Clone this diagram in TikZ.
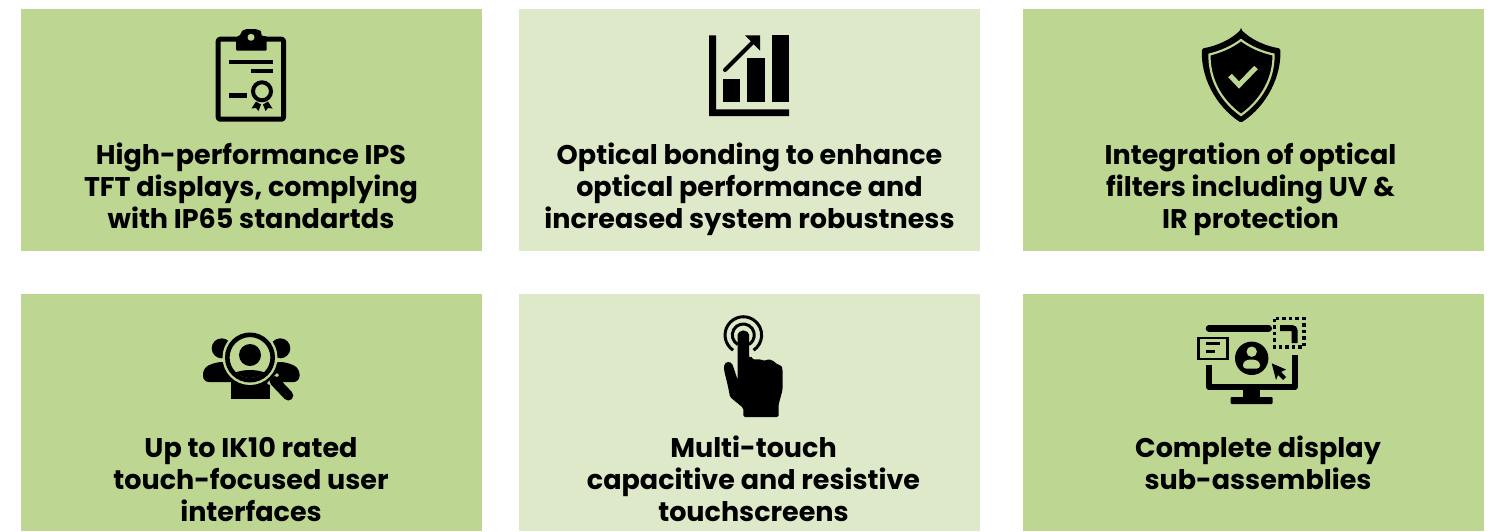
\documentclass[tikz,border=0pt]{standalone}
\usepackage{fontspec}
\setmainfont{Poppins}[BoldFont=Poppins Bold]
\definecolor{cardA}{HTML}{BDD792}
\definecolor{cardB}{HTML}{DEE9C9}
\tikzset{
  x=1pt,y=-1pt,
  cardbox/.style={draw=none,inner sep=0,minimum width=461pt,anchor=north west},
  captext/.style={inner sep=0,anchor=north,align=center,font=\bfseries\fontsize{27}{32}\selectfont,text=black},
  inkline/.style={draw=black,line cap=round,line join=round},
}
\begin{document}
\begin{tikzpicture}
\useasboundingbox (0,0) rectangle (1496,531);
\fill[white] (0,0) rectangle (1496,531);
% cards
\node[cardbox,minimum height=242pt,fill=cardA] (c1) at (21,9) {};
\node[cardbox,minimum height=242pt,fill=cardB] (c2) at (519,9) {};
\node[cardbox,minimum height=242pt,fill=cardA] (c3) at (1023,9) {};
\node[cardbox,minimum height=237pt,fill=cardA] (c4) at (21,294) {};
\node[cardbox,minimum height=237pt,fill=cardB] (c5) at (519,294) {};
\node[cardbox,minimum height=237pt,fill=cardA] (c6) at (1023,294) {};
% captions
\node[captext] (t1) at (251,143) {High-performance IPS\\TFT displays, complying\\with IP65 standartds};
\node[captext] (t2) at (749.5,143) {Optical bonding to enhance\\optical performance and\\increased system robustness};
\node[captext] (t3) at (1250.5,143) {Integration of optical\\filters including UV \&\\IR protection};
\node[captext] (t4) at (251,437) {Up to IK10 rated\\touch-focused user\\interfaces};
\node[captext] (t5) at (753.5,436) {Multi-touch\\capacitive and resistive\\touchscreens};
\node[captext] (t6) at (1258,436) {Complete display\\sub-assemblies};
% clipboard
\draw[inkline,line width=5pt,rounded corners=2pt] (218.2,39.2) rectangle (283.5,119.2);
\fill[black,rounded corners=3pt] (236,50.7) -- (236,36) -- (241,36) -- (241,33) [rounded corners=4pt] -- (243,29) -- (259,29) -- (262,33) [rounded corners=1pt]-- (262,36) -- (266.7,36) -- (266.7,50.7) -- cycle;
\fill[cardA] (251,37.3) circle (3.5);
\fill[black] (229,59.7) rectangle (272.7,63.7);
\fill[black] (251,68.7) rectangle (272.7,72.7);
\fill[black] (229,93.2) rectangle (246.7,97.7);
\draw[black,line width=4pt] (262,91.3) circle (9);
\fill[black] (251.5,108.5) -- (256,101.5) -- (261,104.5) -- (258.5,111) -- (256,108) -- cycle;
\fill[black] (272.5,108.5) -- (268,101.5) -- (263,104.5) -- (265.5,111) -- (268,108) -- cycle;
% chart
\fill[black] (709,35.3) -- (716,35.3) -- (716,109.3) -- (789,109.3) -- (789,116) -- (709,116) -- cycle;
\fill[black] (722.7,79.3) rectangle (740.3,102.3);
\fill[black] (747.3,58.3) rectangle (764.7,102.3);
\fill[black] (771.7,35.3) rectangle (789,102.3);
\draw[inkline,line width=4pt] (725,70) -- (754,41);
\fill[black] (745,35.3) -- (760,35.3) -- (760,50.7) -- cycle;
% shield
\fill[black,rounded corners=1.5pt] (1241,29.3) .. controls (1250,39) and (1265,46) .. (1280.3,48.5)
  .. controls (1281.5,75) and (1268,105) .. (1241,122.7)
  .. controls (1214,105) and (1200.5,75) .. (1202,48.5)
  .. controls (1217,46) and (1232,39) .. cycle;
\draw[cardA,line width=2.2pt] (1241,40) .. controls (1250,47) and (1262,52) .. (1273.5,54.5)
  .. controls (1274,78) and (1262,100) .. (1241,115)
  .. controls (1220,100) and (1209,78) .. (1209.5,54.5)
  .. controls (1220,52) and (1232,47) .. cycle;
\draw[cardA,line width=5pt,line join=miter] (1230,75.5) -- (1239,85) -- (1256,67.5);
% people
\fill[black] (221.7,348.3) circle (10);
\fill[black] (280.3,348.3) circle (10);
\fill[black,rounded corners=6pt] (203,382) -- (203,368) -- (216,362) -- (228,362) -- (240,382) -- cycle;
\fill[black,rounded corners=6pt] (299.5,382) -- (299.5,368) -- (286,362) -- (274,362) -- (262,382) -- cycle;
\fill[black] (230.7,367) rectangle (270,399);
\fill[cardA] (250,357.5) circle (27.5);
\draw[black,line width=4.6pt] (250,357.5) circle (22.7);
\begin{scope}
\clip (250,357.5) circle (20.5);
\fill[black] (250,391) ellipse (31 and 21);
\end{scope}
\fill[black] (250,355) circle (11);
\draw[cardA,line width=14pt] (272,378) -- (274,380);
\draw[inkline,line width=10pt] (274.5,381) -- (288.3,395.5);
% hand
\draw[black,line width=3pt] (733.1,350.2) arc[start angle=124,end angle=416,radius=18.3];
\draw[black,line width=3pt] (737.8,344.5) arc[start angle=120,end angle=420,radius=11];
\fill[black,rounded corners=1.5pt]
 (737.7,336) arc[start angle=180,end angle=360,radius=5.65]
 -- (749,358) .. controls (751,357) and (752,356) .. (753,360)
 .. controls (756,359) and (760,359) .. (765,361)
 .. controls (768,359) and (772,359) .. (778,365)
 .. controls (782,365) and (782.5,368) .. (782.5,372)
 -- (782.5,390) -- (778.5,405) -- (778.5,417) -- (743.3,417) -- (743.3,408)
 -- (730,397) .. controls (727,380) and (724,372) .. (724,367)
 .. controls (725,361) and (731,361) .. (733,366) -- (737.7,380) -- cycle;
% monitor
\draw[black,line width=6pt,line join=round] (1209,365) -- (1209,387) -- (1294.7,387) -- (1294.7,355);
\draw[black,line width=6.6pt,line cap=round] (1209,328.3) -- (1268.7,328.3);
\draw[black,line width=6pt,rounded corners=3pt] (1280,328) -- (1294.7,328) -- (1294.7,343);
\fill[black] (1243,390) rectangle (1260,397);
\fill[black,rounded corners=1pt] (1230.7,397) rectangle (1272.7,404);
\draw[black,line width=3.5pt,dash pattern=on 3.5pt off 3pt] (1274.7,318.7) rectangle (1304,347);
\fill[cardA] (1197,336) rectangle (1229,361);
\draw[black,line width=2.4pt] (1198.5,338) rectangle (1227.5,359);
\fill[black] (1205.7,342) rectangle (1220,345);
\fill[black] (1205.7,349.5) rectangle (1215,352.5);
\fill[black] (1251.7,358.3) circle (16.7);
\fill[cardA] (1251.7,351.7) circle (5.2);
\fill[cardA,rounded corners=3pt] (1243,368.5) -- (1243,362) -- (1248,359.5) -- (1255,359.5) -- (1260,362) -- (1260,368.5) -- cycle;
\fill[black] (1271.7,363.3) -- (1286,369.5) -- (1281,372) -- (1286,377) -- (1283,380) -- (1278,375) -- (1276,380) -- cycle;
\end{tikzpicture}
\end{document}
